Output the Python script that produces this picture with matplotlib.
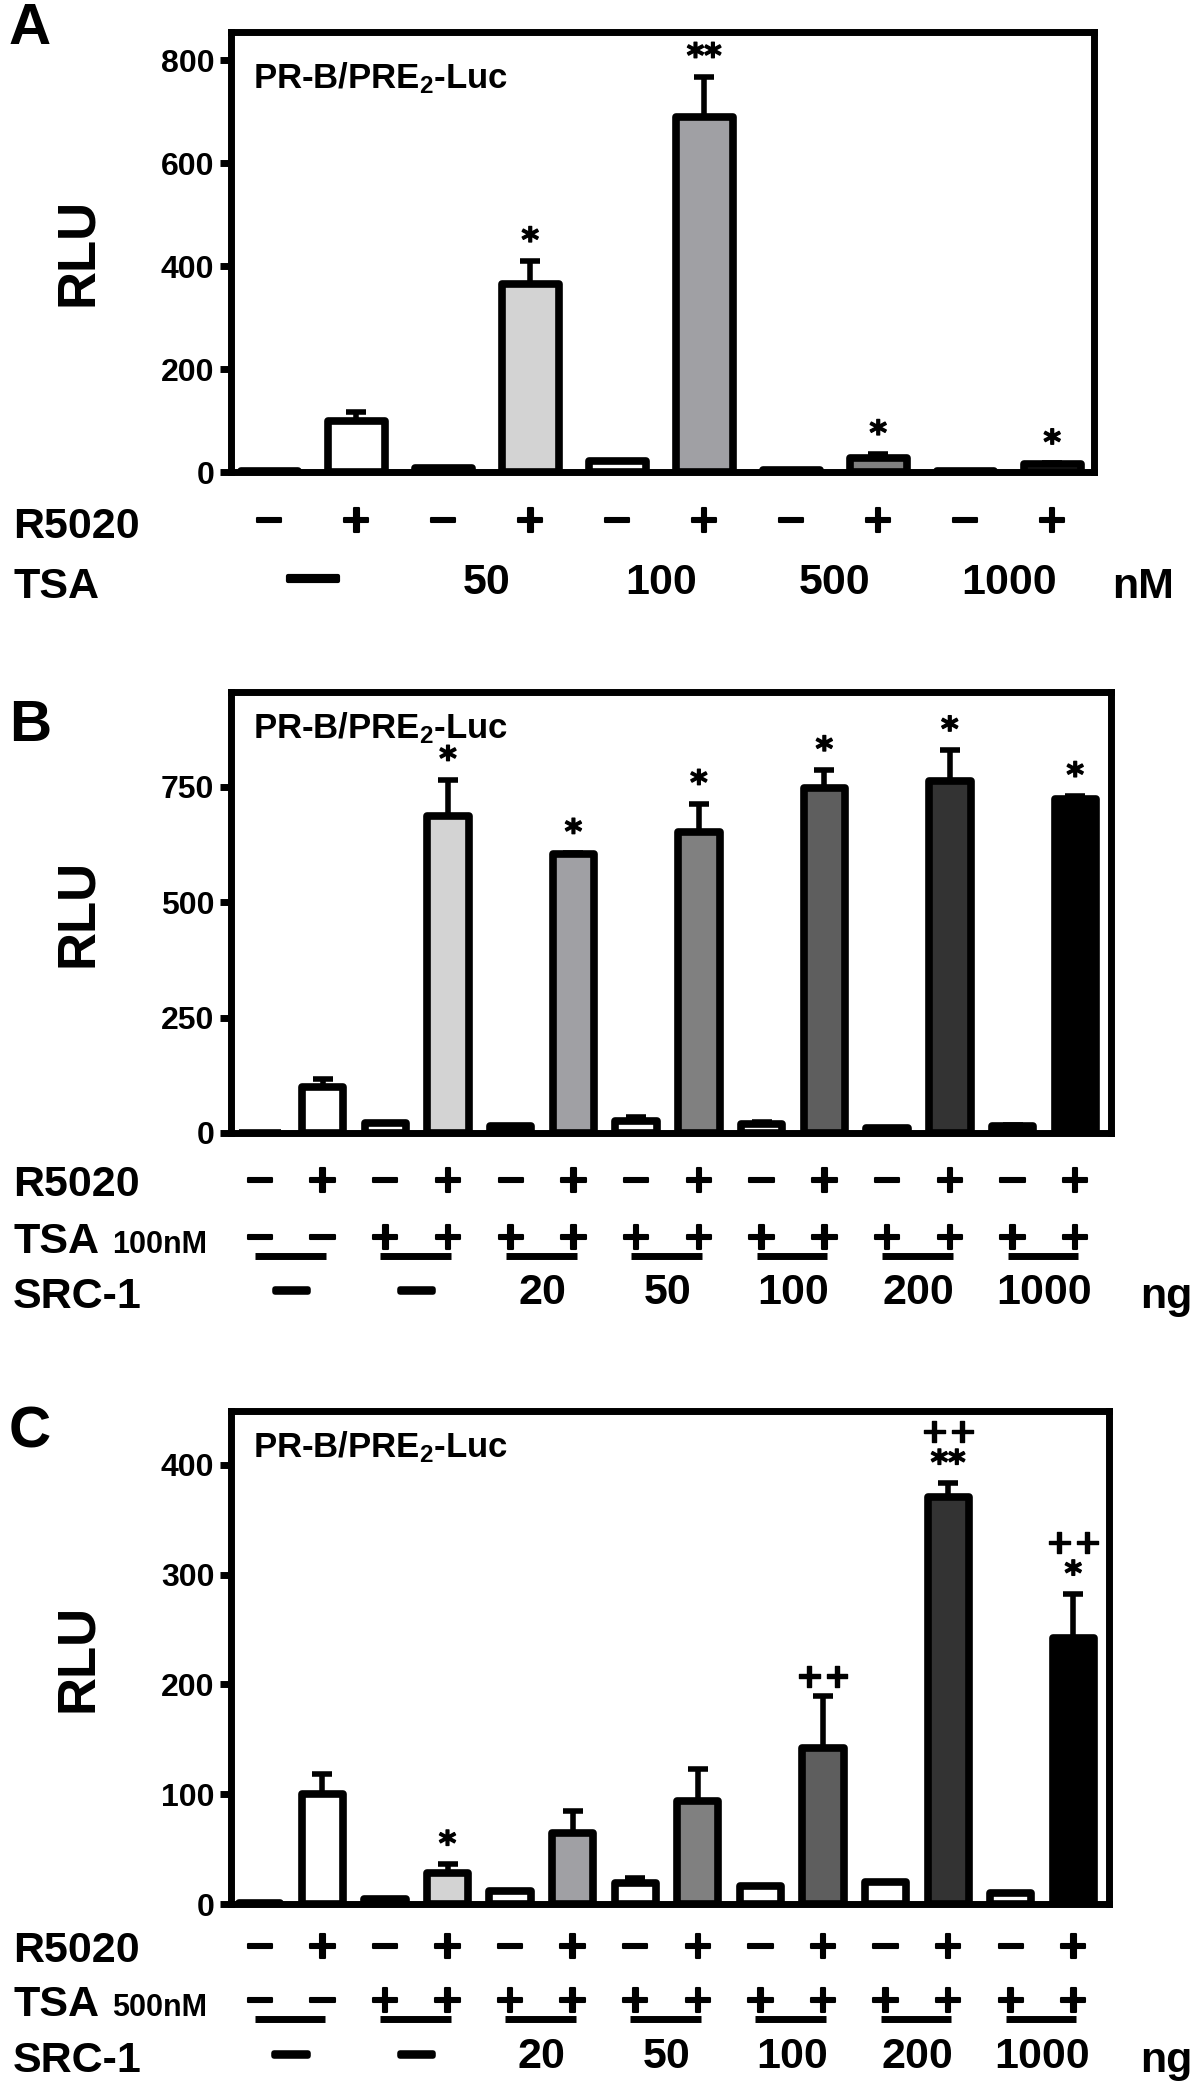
import numpy as np
import matplotlib
matplotlib.use("Agg")
import matplotlib.pyplot as plt
import matplotlib.transforms as mtransforms
import matplotlib.patheffects as pe
from matplotlib.lines import Line2D

plt.rcParams['font.family'] = ['Liberation Sans', 'DejaVu Sans']
plt.rcParams['font.weight'] = 'bold'
plt.rcParams['mathtext.fontset'] = 'custom'
plt.rcParams['mathtext.rm'] = 'Liberation Sans:bold'
plt.rcParams['mathtext.default'] = 'rm'

NARROW = ['Liberation Sans Narrow', 'Liberation Sans', 'DejaVu Sans']
SIGNS = ['DejaVu Sans']

W, H = 1200, 2085

# panel A data
a_rlu = [1, 100, 8, 366, 22, 689, 4, 27, 2, 15]
a_err = [0, 17, 0, 44, 0, 79, 0, 8, 0, 2]
a_sig = ['', '', '', '*', '', '**', '', '*', '', '*']
a_colors = ['white', 'white', 'white', '#d3d3d3', 'white', '#a0a0a4',
            'white', '#808080', 'white', '#5e5e5e']
a_r5020 = ['−', '+'] * 5
a_tsa = ['—', '50', '100', '500', '1000']
a_yticks = [0, 200, 400, 600, 800]

# panel B data
b_rlu = [1, 100, 22, 687, 15, 605, 27, 652, 20, 747, 10, 763, 16, 723]
b_err = [0, 18, 0, 78, 0, 2, 7, 61, 4, 39, 0, 66, 2, 7]
b_sig = ['', '', '', '*', '', '*', '', '*', '', '*', '', '*', '', '*']
b_yticks = [0, 250, 500, 750]

# panel C data
c_rlu = [1, 100, 5, 28, 12, 65, 19, 94, 16, 142, 20, 371, 10, 242]
c_err = [0, 18, 0, 8, 0, 20, 5, 29, 0, 47, 0, 12, 0, 40]
c_sig = ['', '', '', '*', '', '', '', '', '', '++', '', '++\n**', '', '++\n*']
c_yticks = [0, 100, 200, 300, 400]

bc_colors = ['white', 'white', 'white', '#d3d3d3', 'white', '#a0a0a4', 'white',
             '#808080', 'white', '#5e5e5e', 'white', '#333333', 'white', 'black']
bc_r5020 = ['−', '+'] * 7
bc_tsa = ['−', '−'] + ['+'] * 12
bc_src = ['—', '—', '20', '50', '100', '200', '1000']

fig = plt.figure(figsize=(W / 100, H / 100), dpi=100)

LBL = 31  # row label size
CAP = LBL * 100 / 72 * 0.716 / 2  # half cap height in px


def axes_px(left, top, right, bottom):
    return fig.add_axes([left / W, 1 - bottom / H, (right - left) / W, (bottom - top) / H])


def draw_panel(ax, vals, errs, colors, sig, ymax, yticks, xlim, title_dy):
    x = np.arange(len(vals))
    bars = ax.bar(x, vals, width=0.66, color=colors, edgecolor='black',
                  linewidth=5.5, zorder=3)
    for p in bars:
        p.set_joinstyle('round')
    ex = [i for i in x if errs[i] > 0]
    ax.errorbar(ex, [vals[i] for i in ex], yerr=[[0] * len(ex), [errs[i] for i in ex]],
                fmt='none', ecolor='black', elinewidth=4, capsize=7.5, capthick=4, zorder=2)
    for i in x:
        if sig[i]:
            ax.annotate(sig[i], (i, vals[i] + errs[i]), xytext=(0, 2),
                        textcoords='offset points', ha='center', va='bottom',
                        fontsize=24, fontweight='bold', family=SIGNS, linespacing=0.95,
                        path_effects=[pe.withStroke(linewidth=1, foreground='black')])
    ax.set_xlim(*xlim)
    ax.set_ylim(0, ymax)
    ax.set_yticks(yticks)
    ax.set_xticks([])
    for s in ax.spines.values():
        s.set_linewidth(5)
    ax.tick_params(axis='y', length=8, width=5, pad=4)
    for lab in ax.get_yticklabels():
        lab.set_fontfamily(NARROW)
        lab.set_fontsize(23)
        lab.set_fontweight('bold')
    ax.set_ylabel('RLU', fontsize=38, fontweight='bold', family=NARROW, va='center')
    ax.yaxis.set_label_coords(-(231 - 78) / ax.bbox.width, 0.5)
    ax.text(0.025, 1 - title_dy / ax.bbox.height, 'PR-B/PRE$_2$-Luc',
            transform=ax.transAxes, fontsize=25, fontweight='bold', ha='left', va='center')


def row(ax, xs, ypx, labels, **kw):
    tr = mtransforms.blended_transform_factory(ax.transData, fig.transFigure)
    for xv, s in zip(xs, labels):
        ax.text(xv, 1 - ypx / H, s, transform=tr, ha='center', va='center',
                clip_on=False, **kw)


def label(xpx, ypx, s, size=LBL, **kw):
    # ypx is the vertical centre of the capitals
    fig.text(xpx / W, 1 - (ypx + CAP) / H, s, ha='left', va='baseline',
             fontweight='bold', fontsize=size, **kw)


thick = [pe.withStroke(linewidth=1.5, foreground='black')]
sign_kw = dict(fontsize=28, fontweight='bold', family=SIGNS, path_effects=thick)
big_kw = dict(fontsize=LBL, fontweight='bold')
dash_kw = dict(fontsize=24, fontweight='bold',
               path_effects=[pe.withStroke(linewidth=4, foreground='black')])

# ---- A
axA = axes_px(231, 32, 1094, 472)
draw_panel(axA, a_rlu, a_err, a_colors, a_sig, 855, a_yticks, (-0.44, 9.48), 46)
fig.text(9 / W, 1 - 29 / H, 'A', fontsize=42, fontweight='bold', ha='left', va='center')
label(13, 523, 'R5020')
label(13, 583, 'TSA')
row(axA, np.arange(10), 521, a_r5020, **sign_kw)
row(axA, [0.5], 579, a_tsa[:1], fontsize=36, fontweight='bold',
    path_effects=[pe.withStroke(linewidth=3, foreground='black')])
row(axA, np.arange(1, 5) * 2 + 0.5, 583, a_tsa[1:], **big_kw)
label(1112, 583, 'nM')

# ---- B and C share the same layout of the condition rows
for ax_box, vals, errs, sig, ymax, yticks, letter, letter_y, rows, tsa_txt, tdy in [
        ((231, 692, 1111, 1133), b_rlu, b_err, b_sig, 955, b_yticks, 'B', 726,
         (1181, 1238, 1256, 1293), '100nM', 36),
        ((231, 1411, 1109, 1904), c_rlu, c_err, c_sig, 449, c_yticks, 'C', 1433,
         (1947, 2001, 2019, 2057), '500nM', 36)]:
    ax = axes_px(*ax_box)
    draw_panel(ax, vals, errs, bc_colors, sig, ymax, yticks, (-0.46, 13.57), tdy)
    fig.text(9 / W, 1 - letter_y / H, letter, fontsize=42, fontweight='bold',
             ha='left', va='center')
    y_r, y_t, y_u, y_s = rows
    label(13, y_r, 'R5020')
    label(13, y_t, 'TSA')
    label(112, y_t, tsa_txt, size=22, family=NARROW)
    label(13, y_s, 'SRC-1')
    row(ax, np.arange(14), y_r, bc_r5020, **sign_kw)
    row(ax, np.arange(14), y_t, bc_tsa, **sign_kw)
    tr = mtransforms.blended_transform_factory(ax.transData, fig.transFigure)
    for k in range(7):
        ax.add_line(Line2D([2 * k - 0.08, 2 * k + 1.05], [1 - y_u / H] * 2, transform=tr,
                           color='black', linewidth=5, clip_on=False,
                           solid_capstyle='butt'))
    row(ax, [0.5, 2.5], y_s - 2, bc_src[:2], **dash_kw)
    row(ax, np.arange(2, 7) * 2 + 0.5, y_s, bc_src[2:], **big_kw)
    label(1140, y_s, 'ng')

fig.savefig('out.png', dpi=100, facecolor='white')
